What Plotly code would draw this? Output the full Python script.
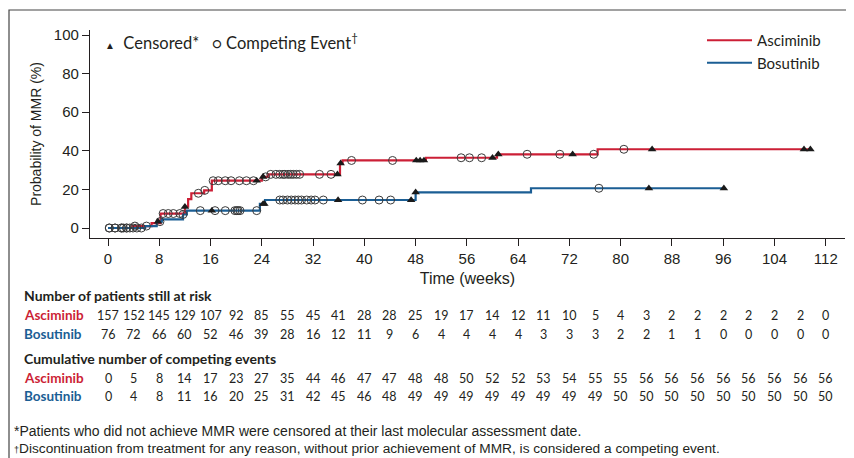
import plotly.graph_objects as go

# ---- data ----
asc_t = [0, 3.8, 6.8, 8.2, 12.0, 12.5, 13.0, 15.0, 16.2, 24.0, 25.0, 36.2, 36.6, 49.6, 60.7, 76.4, 109.6]
asc_p = [0, 1.0, 2.5, 7.5, 11.0, 15.0, 18.0, 19.5, 24.5, 26.5, 27.8, 33.5, 35.0, 36.4, 38.2, 40.8, 40.8]

bos_t = [0, 5.8, 7.6, 8.4, 11.7, 12.3, 23.7, 24.5, 48.0, 66.0, 96.1]
bos_p = [0, 1.0, 3.3, 4.5, 7.0, 9.0, 12.5, 14.5, 18.5, 20.6, 20.6]

asc_censor = [12.0, 23.2, 24.2, 35.8, 36.3, 48.1, 48.7, 49.3, 60.0, 60.9, 72.5, 84.9, 108.6, 109.6]
bos_censor = [7.8, 16.2, 24.2, 24.4, 35.9, 47.3, 48.0, 84.4, 96.1]

asc_compete = [0.2, 1.1, 2.1, 2.9, 4.2, 6.0, 8.6, 9.4, 10.2, 11.2, 14.1, 15.1, 16.4, 17.2, 18.3,
               19.2, 20.5, 21.6, 22.7, 24.6, 25.4, 26.2, 26.8, 27.3, 27.6, 28.1, 28.5, 28.9, 29.4,
               29.9, 33.0, 34.8, 38.0, 44.4, 55.1, 56.4, 58.3, 65.4, 70.5, 75.8, 80.5]
bos_compete = [0.2, 1.1, 2.1, 2.4, 2.9, 3.4, 3.9, 4.5, 5.2, 8.1, 11.7, 14.4, 16.7, 18.3, 19.8,
               20.1, 20.3, 20.6, 23.2, 26.8, 27.3, 28.0, 28.6, 29.2, 29.7, 30.2, 31.0, 31.7, 32.3,
               33.6, 39.7, 42.3, 44.1, 76.6]

table_weeks = list(range(0, 113, 4))
asc_risk = [157, 152, 145, 129, 107, 92, 85, 55, 45, 41, 28, 28, 25, 19, 17, 14, 12, 11, 10, 5, 4, 3, 2, 2, 2, 2, 2, 2, 0]
bos_risk = [76, 72, 66, 60, 52, 46, 39, 28, 16, 12, 11, 9, 6, 4, 4, 4, 4, 3, 3, 3, 2, 2, 1, 1, 0, 0, 0, 0, 0]
asc_events = [0, 5, 8, 14, 17, 23, 27, 35, 44, 46, 47, 47, 48, 48, 50, 52, 52, 53, 54, 55, 55, 56, 56, 56, 56, 56, 56, 56, 56]
bos_events = [0, 4, 8, 11, 16, 20, 25, 31, 42, 45, 46, 48, 49, 49, 49, 49, 49, 49, 49, 49, 50, 50, 50, 50, 50, 50, 50, 50, 50]

RED = "#cc1f36"
BLUE = "#1b5e94"
TXT = "#231f20"


def step_value(ts, ps, t):
    v = ps[0]
    for ti, pi in zip(ts, ps):
        if ti <= t:
            v = pi
    return v


series = [
    ("Asciminib", asc_t, asc_p, RED, asc_censor, asc_compete),
    ("Bosutinib", bos_t, bos_p, BLUE, bos_censor, bos_compete),
]

fig = go.Figure()
for name, ts, ps, col, cens, comp in series:
    fig.add_trace(go.Scatter(x=ts, y=ps, mode="lines", line=dict(color=col, width=2.2, shape="hv"),
                             name=name, showlegend=True))
for name, ts, ps, col, cens, comp in series:
    fig.add_trace(go.Scatter(x=comp, y=[step_value(ts, ps, t) for t in comp], mode="markers",
                             marker=dict(symbol="circle-open", size=8, color="#3a3a3a", line=dict(width=1)),
                             showlegend=False))
    fig.add_trace(go.Scatter(x=cens, y=[step_value(ts, ps, t) for t in cens], mode="markers",
                             marker=dict(symbol="triangle-up", size=7.5, color="#1a1a1a"),
                             showlegend=False))

# page body has an 8px margin: work in screen pixels and convert
OFF = 8
W, H = 854 - OFF, 458 - OFF
PL, PR, PT, PB = 90, 845, 30, 238  # plot area in screen pixels


def px(xs):
    return (xs - PL) / (PR - PL)


def py(ys):
    return (PB - ys) / (PB - PT)


ann = []
TF = "Lato, Liberation Sans, sans-serif"
NF = "Liberation Sans, Arial, sans-serif"
ann.append(dict(x=px(22), y=py(295), xref="paper", yref="paper", xanchor="left", yanchor="middle",
                text="<b>Number of patients still at risk</b>", showarrow=False,
                font=dict(family=TF, size=14, color=TXT)))
ann.append(dict(x=px(22), y=py(358), xref="paper", yref="paper", xanchor="left", yanchor="middle",
                text="<b>Cumulative number of competing events</b>", showarrow=False,
                font=dict(family=TF, size=14, color=TXT)))
for label, col, yy, vals in [("Asciminib", RED, 315, asc_risk), ("Bosutinib", BLUE, 334, bos_risk),
                             ("Asciminib", RED, 378, asc_events), ("Bosutinib", BLUE, 396, bos_events)]:
    ann.append(dict(x=px(22), y=py(yy), xref="paper", yref="paper", xanchor="left", yanchor="middle",
                    text="<b>%s</b>" % label, showarrow=False, font=dict(family=TF, size=13.5, color=col)))
    for wk, v in zip(table_weeks, vals):
        ann.append(dict(x=wk, y=py(yy), xref="x", yref="paper", xanchor="center", yanchor="middle",
                        text=str(v), showarrow=False, font=dict(family=TF, size=12.5, color=TXT)))

ann.append(dict(x=px(12), y=py(431), xref="paper", yref="paper", xanchor="left", yanchor="middle",
                text="*Patients who did not achieve MMR were censored at their last molecular assessment date.",
                showarrow=False, font=dict(family=NF, size=14, color=TXT)))
ann.append(dict(x=px(12), y=py(448), xref="paper", yref="paper", xanchor="left", yanchor="middle",
                text="<span style='font-size:9px'>†</span>Discontinuation from treatment for any reason, without prior achievement of MMR, is considered a competing event.",
                showarrow=False, font=dict(family=NF, size=13.7, color=TXT)))

ann.append(dict(x=px(103), y=py(42), xref="paper", yref="paper", xanchor="left", yanchor="middle",
                text="<span style='font-size:10px'>▲</span>  Censored*   <span style='font-size:15px'>○</span> Competing Event<sup>†</sup>",
                showarrow=False, font=dict(family=TF, size=16.5, color=TXT)))

fig.update_layout(
    width=W, height=H,
    margin=dict(l=PL - OFF, r=W - (PR - OFF), t=PT - OFF, b=H - (PB - OFF), autoexpand=False),
    paper_bgcolor="white", plot_bgcolor="white",
    font=dict(family=NF, color=TXT),
    showlegend=True,
    legend=dict(x=px(702), y=py(24), xanchor="left", yanchor="top", bgcolor="rgba(0,0,0,0)",
                font=dict(family=TF, size=15, color=TXT), tracegroupgap=0, itemwidth=45),
    annotations=ann,
    shapes=[dict(type="rect", xref="paper", yref="paper", x0=px(9), x1=px(851), y0=py(10), y1=py(470),
                 line=dict(color="#444", width=1.2), fillcolor="rgba(0,0,0,0)", layer="below")],
)
fig.update_xaxes(range=[-2.81, 115.0], tickmode="array", tickvals=table_weeks[::2], automargin=False,
                 ticks="outside", ticklen=7, tickcolor=TXT, showline=True, linecolor=TXT, linewidth=1.2,
                 showgrid=False, zeroline=False, tickfont=dict(size=15),
                 title=dict(text="Time (weeks)", font=dict(family=NF, size=16), standoff=6))
fig.update_yaxes(range=[-5.18, 102.6], tickmode="array", tickvals=[0, 20, 40, 60, 80, 100], automargin=False,
                 ticks="outside", ticklen=7, tickcolor=TXT, showline=True, linecolor=TXT, linewidth=1.2,
                 showgrid=False, zeroline=False, tickfont=dict(size=15),
                 title=dict(text="Probability of MMR (%)", font=dict(family=NF, size=14), standoff=8))

fig.write_html("out.html")
